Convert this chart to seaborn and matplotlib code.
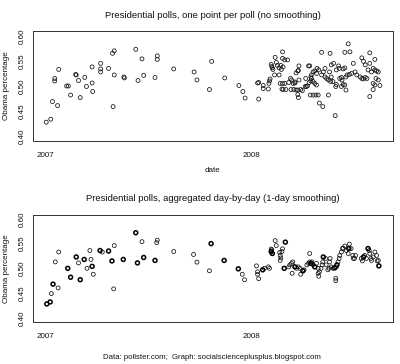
import pandas as pd
import matplotlib
matplotlib.use('Agg')
import matplotlib.pyplot as plt
import seaborn as sns

# days since 2007-01-01, Obama share (one point per poll)
top_days = [2, 10, 13, 22, 17, 17, 24, 38, 41, 45, 54, 55, 59, 62, 70, 73, 83, 83, 84,
            98, 98, 98, 112, 120, 119, 122, 122, 139, 140, 160, 171, 164, 174,
            198, 198, 194, 227, 263, 268, 294, 317, 290,
            342, 349, 353, 377, 377, 375, 385, 385, 394, 395, 396, 397, 405, 413,
            399, 400, 401, 402, 406, 408, 410, 413, 416, 417, 419, 419, 423, 428, 420,
            415, 419, 423, 418, 420, 425, 433, 435, 430, 438, 441, 434, 439, 443, 446,
            443, 446, 448, 447, 448, 446, 447, 441, 451, 454, 459, 461, 463, 465, 460,
            469, 466, 469,
            488, 503, 529, 538, 535, 573, 467, 470, 470, 473, 476, 480, 483, 479, 494,
            491, 488, 473, 476, 479, 468, 473, 478, 482, 484, 490, 500, 512, 502, 505,
            504, 494, 497, 500, 508, 513, 514, 523, 526, 529, 531, 520, 523, 524, 531,
            533, 537, 526, 529, 544, 541, 547, 550, 556, 559, 562, 565, 568, 559, 562,
            565, 573, 570, 576, 579, 582, 585, 588, 582, 584, 588, 579, 582, 591, 573,
            579, 514, 519, 518, 505, 509]
top_vals = [0.428, 0.434, 0.469, 0.461, 0.515, 0.510, 0.533, 0.500, 0.500, 0.482, 0.523,
            0.522, 0.511, 0.477, 0.517, 0.499, 0.538, 0.506, 0.489,
            0.545, 0.534, 0.528, 0.535, 0.459, 0.565, 0.570, 0.522, 0.518, 0.516, 0.573,
            0.554, 0.511, 0.521,
            0.560, 0.553, 0.517, 0.534, 0.528, 0.512, 0.549, 0.516, 0.493,
            0.501, 0.489, 0.476, 0.474, 0.507, 0.506, 0.501, 0.495, 0.494, 0.505, 0.510,
            0.514, 0.522, 0.522,
            0.543, 0.539, 0.536, 0.533, 0.557, 0.547, 0.541, 0.536, 0.541, 0.533, 0.568,
            0.555, 0.552, 0.552, 0.538,
            0.505, 0.505, 0.505, 0.494, 0.493, 0.493, 0.515, 0.512, 0.507, 0.505, 0.506,
            0.493, 0.493, 0.492, 0.492,
            0.526, 0.530, 0.540, 0.531, 0.512, 0.483, 0.477, 0.508, 0.493, 0.491, 0.499,
            0.499, 0.500, 0.540, 0.515,
            0.518, 0.507, 0.510,
            0.567, 0.565, 0.567, 0.568, 0.584, 0.566, 0.540, 0.522, 0.515, 0.528, 0.530,
            0.535, 0.532, 0.525, 0.535,
            0.528, 0.522, 0.509, 0.505, 0.502, 0.482, 0.482, 0.482, 0.482, 0.466, 0.459,
            0.482, 0.441, 0.528, 0.518,
            0.509, 0.518, 0.515, 0.512, 0.509, 0.499, 0.503, 0.499, 0.503, 0.502, 0.492,
            0.515, 0.517, 0.512, 0.518,
            0.522, 0.523, 0.534, 0.536, 0.545, 0.525, 0.528, 0.522, 0.518, 0.515, 0.514,
            0.517, 0.515, 0.556, 0.549,
            0.542, 0.545, 0.532, 0.528, 0.535, 0.532, 0.530, 0.528, 0.553, 0.515, 0.512,
            0.505, 0.502, 0.501, 0.479,
            0.493, 0.532, 0.535, 0.540, 0.542, 0.545]

# aggregated day-by-day; n = 2 marks days drawn over several times (bold circles)
bot_days = [3, 9, 11, 14, 23, 18, 24, 40, 45, 55, 59, 62, 69, 74, 79, 81, 83, 85, 97, 101,
            112, 122, 118, 121, 138, 160, 171, 163, 174, 198, 197, 194, 227, 262, 268,
            293, 316, 290,
            341, 348, 352, 373, 375, 375, 377, 384, 387, 394, 396, 399, 400, 401, 399,
            406, 408, 414, 415, 416, 415, 419, 418, 424, 422, 430, 432, 435, 437, 436,
            441, 444, 447, 450, 451, 455, 457, 462, 465, 467, 469, 471,
            467, 470, 473, 476, 479, 482, 482, 483, 484, 487, 489, 490, 491, 495, 496,
            499, 501, 502, 503, 505, 508, 511, 513, 513, 514, 515, 517, 519, 520, 523,
            525, 526, 529, 532, 535, 536, 537, 540, 543, 544, 546, 548, 558, 560, 562,
            564, 567, 570, 572, 573, 575, 576, 579, 582, 585, 586, 588, 589]
bot_vals = [0.428, 0.432, 0.449, 0.468, 0.4605, 0.513, 0.533, 0.500, 0.482, 0.523, 0.511,
            0.477, 0.518, 0.500, 0.536, 0.518, 0.504, 0.488, 0.536, 0.533,
            0.535, 0.546, 0.515, 0.4585, 0.518, 0.572, 0.554, 0.511, 0.522, 0.557, 0.552,
            0.516, 0.534, 0.528, 0.5125,
            0.550, 0.516, 0.495,
            0.499, 0.488, 0.477, 0.505, 0.493, 0.488, 0.479, 0.497, 0.500, 0.503, 0.500,
            0.534, 0.5375, 0.530, 0.539,
            0.556, 0.546, 0.532, 0.526, 0.521, 0.516, 0.5395, 0.534, 0.553, 0.500, 0.503,
            0.507, 0.510, 0.513, 0.490,
            0.503, 0.500, 0.503, 0.500, 0.488, 0.495, 0.497, 0.507, 0.510, 0.530, 0.510,
            0.513,
            0.513, 0.510, 0.507, 0.503, 0.510, 0.500, 0.490, 0.484, 0.493, 0.500, 0.507,
            0.513, 0.523, 0.520, 0.507,
            0.497, 0.500, 0.513, 0.520, 0.503, 0.500, 0.501, 0.480, 0.475, 0.503, 0.507,
            0.513, 0.520, 0.526, 0.533,
            0.540, 0.541, 0.545, 0.536, 0.530, 0.540, 0.549, 0.540, 0.526, 0.520, 0.520,
            0.526, 0.520, 0.515, 0.523,
            0.526, 0.520, 0.540, 0.536, 0.530, 0.520, 0.516, 0.523, 0.533, 0.526, 0.515,
            0.516, 0.505]
bot_n = [2, 2, 1, 2, 1, 1, 1, 2, 2, 2, 1, 2, 2, 1, 1, 1, 2, 1, 2, 1,
         2, 1, 2, 1, 2, 2, 1, 2, 2, 1, 1, 2, 1, 1, 1,
         2, 2, 1,
         2, 1, 1, 1, 1, 1, 1, 2, 1, 1, 1, 2, 1, 2, 1,
         1, 1, 1, 1, 1, 1, 1, 1, 2, 2, 1, 1, 1, 1, 1,
         2, 1, 1, 1, 1, 2, 1, 1, 1, 1, 2, 1,
         1, 1, 1, 2, 1, 1, 1, 1, 1, 1, 1, 1, 2, 1, 1,
         1, 1, 1, 1, 1, 1, 2, 1, 1, 1, 2, 1, 1, 1, 1,
         1, 1, 1, 1, 1, 2, 1, 1, 1, 1, 1, 1, 1, 1, 2,
         1, 1, 2, 1, 1, 1, 1, 1, 1, 1, 1, 1, 2]

y_ticks = [0.40, 0.45, 0.50, 0.55, 0.60]
x_tick_labels = ['2007', '2008']

base = pd.Timestamp('2007-01-01')
top = pd.DataFrame({'date': base + pd.to_timedelta(top_days, unit='D'), 'obama': top_vals})
bot = pd.DataFrame({'date': base + pd.to_timedelta(bot_days, unit='D'), 'obama': bot_vals,
                    'n': bot_n})

sns.set_theme(style='white')
plt.rcParams['font.family'] = ['Liberation Sans', 'DejaVu Sans']

fig = plt.figure(figsize=(4, 3.64), dpi=100)
ax1 = fig.add_axes([0.083, 0.614, 0.8995, 0.2995])
ax2 = fig.add_axes([0.083, 0.1154, 0.8995, 0.2948])


def style_axis(ax):
    ax.set_xlim(base - pd.Timedelta(days=21), base + pd.Timedelta(days=614))
    ax.set_ylim(0.3915, 0.6085)
    ax.set_yticks(y_ticks)
    ax.set_yticklabels(['%.2f' % v for v in y_ticks], rotation=90, va='center')
    ax.set_xticks([pd.Timestamp('2007-01-01'), pd.Timestamp('2008-01-01')])
    ax.set_xticklabels(x_tick_labels)
    ax.tick_params(axis='both', direction='out', length=3, width=0.6, labelsize=5.8,
                   color='#222222', labelcolor='#111111')
    ax.tick_params(axis='y', pad=2.5)
    ax.tick_params(axis='x', pad=5)
    for s in ax.spines.values():
        s.set_visible(True)
        s.set_color('#333333')
        s.set_linewidth(0.7)
    ax.set_ylabel('Obama percentage', fontsize=5.8, color='#111111')
    ax.yaxis.set_label_coords(-0.065, 0.5)
    ax.grid(False)


sns.scatterplot(data=top, x='date', y='obama', ax=ax1, marker='o', s=8,
                facecolor='none', edgecolor='#111111', linewidth=0.55)
single = bot[bot['n'] == 1]
multi = bot[bot['n'] > 1]
sns.scatterplot(data=single, x='date', y='obama', ax=ax2, marker='o', s=8,
                facecolor='none', edgecolor='#111111', linewidth=0.55)
sns.scatterplot(data=multi, x='date', y='obama', ax=ax2, marker='o', s=8,
                facecolor='none', edgecolor='black', linewidth=1.1)

style_axis(ax1)
style_axis(ax2)
ax1.set_xlabel('')
ax2.set_xlabel('')

fig.text(0.533, 0.957, 'Presidential polls, one point per poll (no smoothing)',
         ha='center', va='center', fontsize=6.8, color='#111111')
fig.text(0.533, 0.455, 'Presidential polls, aggregated day-by-day (1-day smoothing)',
         ha='center', va='center', fontsize=6.8, color='#111111')
fig.text(0.531, 0.532, 'date', ha='center', va='center', fontsize=5.8, color='#111111')
fig.text(0.53, 0.019, 'Data: pollster.com;  Graph: socialscienceplusplus.blogspot.com',
         ha='center', va='center', fontsize=5.6, color='#111111')

fig.savefig('out.png', dpi=100, facecolor='white')
